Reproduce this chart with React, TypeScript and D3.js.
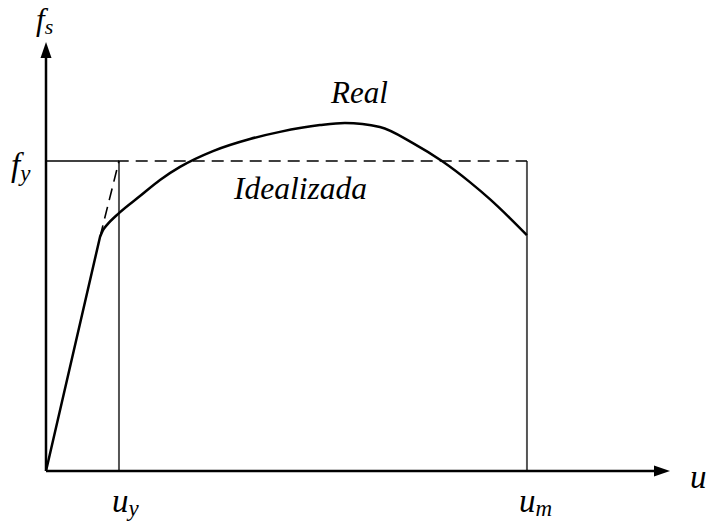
import React from "react";
import * as d3 from "d3";

// Idealised bilinear law: yield displacement, ultimate displacement, yield stress
const U_Y = 1.0;
const U_M = 6.59;
const F_Y = 1.0;
// End of the elastic branch (knee of the real curve)
const KNEE_U = 0.74;
const KNEE_F = 0.755;

// Measured stress–displacement curve, beyond the elastic branch
const realU = [0.74, 0.781, 0.836, 1.0, 1.288, 1.562, 1.836, 2.288, 2.795, 3.205, 3.753, 4.096, 4.575, 5.027, 5.425, 5.808, 6.082, 6.356, 6.589];
const realF = [0.755, 0.777, 0.794, 0.832, 0.887, 0.939, 0.981, 1.032, 1.071, 1.094, 1.116, 1.123, 1.11, 1.058, 1.0, 0.932, 0.877, 0.816, 0.761];

// Idealised curve (after the shared elastic branch)
const idealU = [KNEE_U, U_Y, U_M];
const idealF = [KNEE_F, F_Y, F_Y];

const W = 707;
const H = 522;
const X0 = 46;
const Y0 = 471;

const FONT = "Liberation Serif, Times New Roman, DejaVu Serif, serif";

export default function App() {
  const x = d3.scaleLinear().domain([0, 8.55]).range([X0, 670]);
  const y = d3.scaleLinear().domain([0, 1.384]).range([Y0, 42]);

  const realPts: [number, number][] = realU.map((u, i) => [u, realF[i]]);
  const idealPts: [number, number][] = idealU.map((u, i) => [u, idealF[i]]);

  const curve = d3
    .line<[number, number]>()
    .x((d) => x(d[0]))
    .y((d) => y(d[1]))
    .curve(d3.curveMonotoneX);
  const straight = d3
    .line<[number, number]>()
    .x((d) => x(d[0]))
    .y((d) => y(d[1]));

  // elastic branch is straight, the rest is smoothed
  const realPath =
    `M${x(0)},${y(0)}L${x(KNEE_U)},${y(KNEE_F)}` + (curve(realPts) || "").replace(/^M/, "L");

  const xEnd = x(8.55);
  const yEnd = y(1.384);

  const txt = { fontFamily: FONT, fontStyle: "italic" as const };

  return (
    <svg
      width={W}
      height={H}
      style={{ position: "absolute", left: 0, top: 0, background: "#fff" }}
    >
      {/* thin reference lines */}
      <line x1={X0} y1={y(F_Y)} x2={x(U_Y)} y2={y(F_Y)} stroke="#000" strokeWidth={1.5} />
      <line x1={x(U_Y)} y1={y(0)} x2={x(U_Y)} y2={y(F_Y)} stroke="#555" strokeWidth={2} />
      <line x1={x(U_M)} y1={y(0)} x2={x(U_M)} y2={y(F_Y)} stroke="#555" strokeWidth={2} />

      {/* idealised curve */}
      <path
        d={straight(idealPts) || ""}
        fill="none"
        stroke="#000"
        strokeWidth={1.6}
        strokeDasharray="12,7"
      />

      {/* real curve */}
      <path d={realPath} fill="none" stroke="#000" strokeWidth={2.5} strokeLinejoin="round" />

      {/* axes */}
      <line x1={X0} y1={Y0} x2={xEnd - 12} y2={Y0} stroke="#000" strokeWidth={2.5} />
      <line x1={X0} y1={Y0} x2={X0} y2={yEnd + 12} stroke="#000" strokeWidth={2.5} />
      <path d={`M${xEnd},${Y0} L${xEnd - 16},${Y0 - 5.5} L${xEnd - 16},${Y0 + 5.5} Z`} fill="#000" />
      <path d={`M${X0},${yEnd} L${X0 - 5.5},${yEnd + 16} L${X0 + 5.5},${yEnd + 16} Z`} fill="#000" />

      {/* labels */}
      <g fill="#000">
        <text x={36} y={30} fontSize={31} style={txt}>
          f<tspan fontSize={22} dy={4}>s</tspan>
        </text>
        <text x={11} y={176} fontSize={33} style={txt}>
          f<tspan fontSize={23} dy={5}>y</tspan>
        </text>
        <text x={112} y={512} fontSize={33} style={txt}>
          u<tspan fontSize={23} dy={4}>y</tspan>
        </text>
        <text x={519} y={512} fontSize={33} style={txt}>
          u<tspan fontSize={23} dy={4}>m</tspan>
        </text>
        <text x={690} y={488} fontSize={33} style={txt}>u</text>
        <text x={331} y={103} fontSize={31} style={txt}>Real</text>
        <text x={234} y={199} fontSize={31.5} style={txt}>Idealizada</text>
      </g>
    </svg>
  );
}
